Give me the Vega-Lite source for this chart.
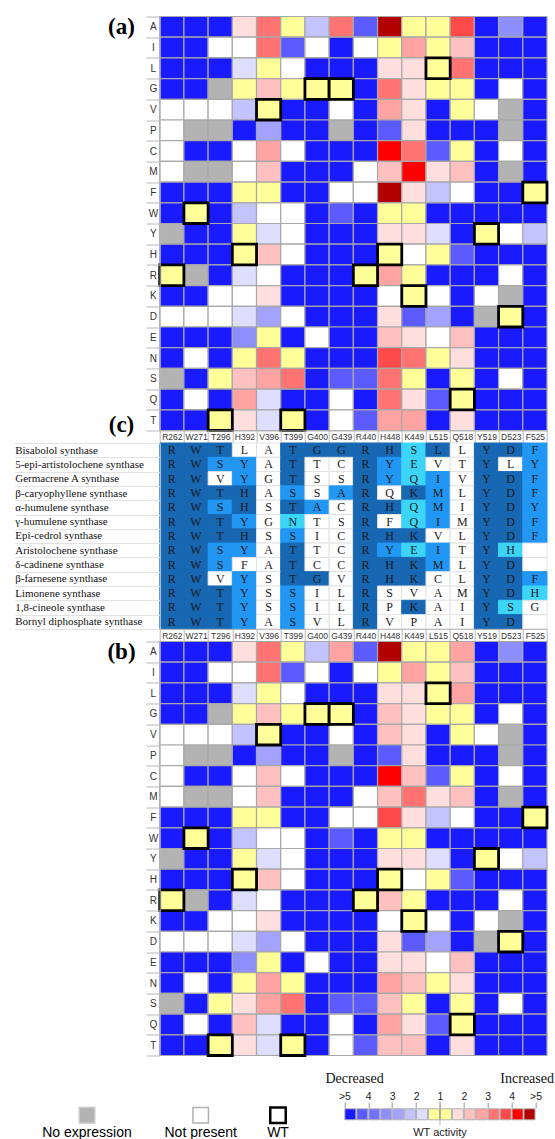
{
"$schema":"https://vega.github.io/schema/vega-lite/v6.json",
"background":"white",
"padding":{"left":13.7,"top":11.5,"right":0,"bottom":2},
"bounds":"flush",
"spacing":12.5,
"config":{"view":{"stroke":null},"font":"Liberation Sans"},
"resolve":{"scale":{"x":"independent","y":"independent","fill":"independent","stroke":"independent"}},
"datasets":{
"a":[
{"aa":"A","site":"R262","lv":"b7"},{"aa":"A","site":"W271","lv":"b7"},{"aa":"A","site":"T296","lv":"b7"},{"aa":"A","site":"H392","lv":"r1"},{"aa":"A","site":"V396","lv":"r4"},{"aa":"A","site":"T399","lv":"y"},{"aa":"A","site":"G400","lv":"b2"},{"aa":"A","site":"G439","lv":"r4"},{"aa":"A","site":"R440","lv":"b6"},{"aa":"A","site":"H448","lv":"r7"},{"aa":"A","site":"K449","lv":"y"},{"aa":"A","site":"L515","lv":"y"},{"aa":"A","site":"Q518","lv":"r5"},{"aa":"A","site":"Y519","lv":"b7"},{"aa":"A","site":"D523","lv":"b4"},{"aa":"A","site":"F525","lv":"b7"},
{"aa":"I","site":"R262","lv":"b7"},{"aa":"I","site":"W271","lv":"b7"},{"aa":"I","site":"T296","lv":"w"},{"aa":"I","site":"H392","lv":"w"},{"aa":"I","site":"V396","lv":"r4"},{"aa":"I","site":"T399","lv":"b6"},{"aa":"I","site":"G400","lv":"w"},{"aa":"I","site":"G439","lv":"b7"},{"aa":"I","site":"R440","lv":"w"},{"aa":"I","site":"H448","lv":"y"},{"aa":"I","site":"K449","lv":"r3"},{"aa":"I","site":"L515","lv":"y"},{"aa":"I","site":"Q518","lv":"r2"},{"aa":"I","site":"Y519","lv":"b7"},{"aa":"I","site":"D523","lv":"b7"},{"aa":"I","site":"F525","lv":"b7"},
{"aa":"L","site":"R262","lv":"b7"},{"aa":"L","site":"W271","lv":"b7"},{"aa":"L","site":"T296","lv":"b7"},{"aa":"L","site":"H392","lv":"b1"},{"aa":"L","site":"V396","lv":"y"},{"aa":"L","site":"T399","lv":"w"},{"aa":"L","site":"G400","lv":"b7"},{"aa":"L","site":"G439","lv":"b7"},{"aa":"L","site":"R440","lv":"b7"},{"aa":"L","site":"H448","lv":"r1"},{"aa":"L","site":"K449","lv":"r1"},{"aa":"L","site":"L515","lv":"wt"},{"aa":"L","site":"Q518","lv":"r4"},{"aa":"L","site":"Y519","lv":"b7"},{"aa":"L","site":"D523","lv":"b7"},{"aa":"L","site":"F525","lv":"b7"},
{"aa":"G","site":"R262","lv":"b7"},{"aa":"G","site":"W271","lv":"b7"},{"aa":"G","site":"T296","lv":"g"},{"aa":"G","site":"H392","lv":"y"},{"aa":"G","site":"V396","lv":"r2"},{"aa":"G","site":"T399","lv":"y"},{"aa":"G","site":"G400","lv":"wt"},{"aa":"G","site":"G439","lv":"wt"},{"aa":"G","site":"R440","lv":"b7"},{"aa":"G","site":"H448","lv":"r4"},{"aa":"G","site":"K449","lv":"r1"},{"aa":"G","site":"L515","lv":"y"},{"aa":"G","site":"Q518","lv":"y"},{"aa":"G","site":"Y519","lv":"b7"},{"aa":"G","site":"D523","lv":"w"},{"aa":"G","site":"F525","lv":"b7"},
{"aa":"V","site":"R262","lv":"w"},{"aa":"V","site":"W271","lv":"w"},{"aa":"V","site":"T296","lv":"w"},{"aa":"V","site":"H392","lv":"b2"},{"aa":"V","site":"V396","lv":"wt"},{"aa":"V","site":"T399","lv":"b7"},{"aa":"V","site":"G400","lv":"b7"},{"aa":"V","site":"G439","lv":"w"},{"aa":"V","site":"R440","lv":"b7"},{"aa":"V","site":"H448","lv":"r3"},{"aa":"V","site":"K449","lv":"r1"},{"aa":"V","site":"L515","lv":"b7"},{"aa":"V","site":"Q518","lv":"y"},{"aa":"V","site":"Y519","lv":"w"},{"aa":"V","site":"D523","lv":"g"},{"aa":"V","site":"F525","lv":"b7"},
{"aa":"P","site":"R262","lv":"w"},{"aa":"P","site":"W271","lv":"g"},{"aa":"P","site":"T296","lv":"g"},{"aa":"P","site":"H392","lv":"b7"},{"aa":"P","site":"V396","lv":"b3"},{"aa":"P","site":"T399","lv":"b7"},{"aa":"P","site":"G400","lv":"b7"},{"aa":"P","site":"G439","lv":"g"},{"aa":"P","site":"R440","lv":"b7"},{"aa":"P","site":"H448","lv":"b6"},{"aa":"P","site":"K449","lv":"r1"},{"aa":"P","site":"L515","lv":"b7"},{"aa":"P","site":"Q518","lv":"b7"},{"aa":"P","site":"Y519","lv":"b7"},{"aa":"P","site":"D523","lv":"g"},{"aa":"P","site":"F525","lv":"b7"},
{"aa":"C","site":"R262","lv":"w"},{"aa":"C","site":"W271","lv":"b7"},{"aa":"C","site":"T296","lv":"b7"},{"aa":"C","site":"H392","lv":"w"},{"aa":"C","site":"V396","lv":"r3"},{"aa":"C","site":"T399","lv":"w"},{"aa":"C","site":"G400","lv":"b7"},{"aa":"C","site":"G439","lv":"b7"},{"aa":"C","site":"R440","lv":"b7"},{"aa":"C","site":"H448","lv":"r6"},{"aa":"C","site":"K449","lv":"r4"},{"aa":"C","site":"L515","lv":"b6"},{"aa":"C","site":"Q518","lv":"y"},{"aa":"C","site":"Y519","lv":"b7"},{"aa":"C","site":"D523","lv":"w"},{"aa":"C","site":"F525","lv":"b7"},
{"aa":"M","site":"R262","lv":"w"},{"aa":"M","site":"W271","lv":"g"},{"aa":"M","site":"T296","lv":"g"},{"aa":"M","site":"H392","lv":"w"},{"aa":"M","site":"V396","lv":"r2"},{"aa":"M","site":"T399","lv":"b7"},{"aa":"M","site":"G400","lv":"b7"},{"aa":"M","site":"G439","lv":"b7"},{"aa":"M","site":"R440","lv":"w"},{"aa":"M","site":"H448","lv":"r2"},{"aa":"M","site":"K449","lv":"r6"},{"aa":"M","site":"L515","lv":"r1"},{"aa":"M","site":"Q518","lv":"r2"},{"aa":"M","site":"Y519","lv":"b7"},{"aa":"M","site":"D523","lv":"g"},{"aa":"M","site":"F525","lv":"b7"},
{"aa":"F","site":"R262","lv":"b7"},{"aa":"F","site":"W271","lv":"b7"},{"aa":"F","site":"T296","lv":"b7"},{"aa":"F","site":"H392","lv":"y"},{"aa":"F","site":"V396","lv":"y"},{"aa":"F","site":"T399","lv":"b7"},{"aa":"F","site":"G400","lv":"b7"},{"aa":"F","site":"G439","lv":"w"},{"aa":"F","site":"R440","lv":"w"},{"aa":"F","site":"H448","lv":"r7"},{"aa":"F","site":"K449","lv":"r1"},{"aa":"F","site":"L515","lv":"b2"},{"aa":"F","site":"Q518","lv":"w"},{"aa":"F","site":"Y519","lv":"b7"},{"aa":"F","site":"D523","lv":"b7"},{"aa":"F","site":"F525","lv":"wt"},
{"aa":"W","site":"R262","lv":"b7"},{"aa":"W","site":"W271","lv":"wt"},{"aa":"W","site":"T296","lv":"b7"},{"aa":"W","site":"H392","lv":"b2"},{"aa":"W","site":"V396","lv":"w"},{"aa":"W","site":"T399","lv":"w"},{"aa":"W","site":"G400","lv":"b7"},{"aa":"W","site":"G439","lv":"b6"},{"aa":"W","site":"R440","lv":"b7"},{"aa":"W","site":"H448","lv":"y"},{"aa":"W","site":"K449","lv":"y"},{"aa":"W","site":"L515","lv":"b7"},{"aa":"W","site":"Q518","lv":"b7"},{"aa":"W","site":"Y519","lv":"b7"},{"aa":"W","site":"D523","lv":"b7"},{"aa":"W","site":"F525","lv":"b7"},
{"aa":"Y","site":"R262","lv":"g"},{"aa":"Y","site":"W271","lv":"b7"},{"aa":"Y","site":"T296","lv":"b7"},{"aa":"Y","site":"H392","lv":"y"},{"aa":"Y","site":"V396","lv":"b1"},{"aa":"Y","site":"T399","lv":"w"},{"aa":"Y","site":"G400","lv":"b7"},{"aa":"Y","site":"G439","lv":"b7"},{"aa":"Y","site":"R440","lv":"b7"},{"aa":"Y","site":"H448","lv":"r1"},{"aa":"Y","site":"K449","lv":"r1"},{"aa":"Y","site":"L515","lv":"b1"},{"aa":"Y","site":"Q518","lv":"b7"},{"aa":"Y","site":"Y519","lv":"wt"},{"aa":"Y","site":"D523","lv":"w"},{"aa":"Y","site":"F525","lv":"b2"},
{"aa":"H","site":"R262","lv":"b7"},{"aa":"H","site":"W271","lv":"b7"},{"aa":"H","site":"T296","lv":"b7"},{"aa":"H","site":"H392","lv":"wt"},{"aa":"H","site":"V396","lv":"r2"},{"aa":"H","site":"T399","lv":"w"},{"aa":"H","site":"G400","lv":"b7"},{"aa":"H","site":"G439","lv":"b7"},{"aa":"H","site":"R440","lv":"b7"},{"aa":"H","site":"H448","lv":"wt"},{"aa":"H","site":"K449","lv":"w"},{"aa":"H","site":"L515","lv":"y"},{"aa":"H","site":"Q518","lv":"b6"},{"aa":"H","site":"Y519","lv":"b7"},{"aa":"H","site":"D523","lv":"b7"},{"aa":"H","site":"F525","lv":"b7"},
{"aa":"R","site":"R262","lv":"wt"},{"aa":"R","site":"W271","lv":"g"},{"aa":"R","site":"T296","lv":"b7"},{"aa":"R","site":"H392","lv":"b1"},{"aa":"R","site":"V396","lv":"w"},{"aa":"R","site":"T399","lv":"b7"},{"aa":"R","site":"G400","lv":"b7"},{"aa":"R","site":"G439","lv":"b7"},{"aa":"R","site":"R440","lv":"wt"},{"aa":"R","site":"H448","lv":"r3"},{"aa":"R","site":"K449","lv":"y"},{"aa":"R","site":"L515","lv":"b7"},{"aa":"R","site":"Q518","lv":"b7"},{"aa":"R","site":"Y519","lv":"b7"},{"aa":"R","site":"D523","lv":"w"},{"aa":"R","site":"F525","lv":"b7"},
{"aa":"K","site":"R262","lv":"b7"},{"aa":"K","site":"W271","lv":"b7"},{"aa":"K","site":"T296","lv":"w"},{"aa":"K","site":"H392","lv":"w"},{"aa":"K","site":"V396","lv":"r1"},{"aa":"K","site":"T399","lv":"b7"},{"aa":"K","site":"G400","lv":"b7"},{"aa":"K","site":"G439","lv":"b7"},{"aa":"K","site":"R440","lv":"b7"},{"aa":"K","site":"H448","lv":"w"},{"aa":"K","site":"K449","lv":"wt"},{"aa":"K","site":"L515","lv":"w"},{"aa":"K","site":"Q518","lv":"b7"},{"aa":"K","site":"Y519","lv":"w"},{"aa":"K","site":"D523","lv":"g"},{"aa":"K","site":"F525","lv":"b7"},
{"aa":"D","site":"R262","lv":"w"},{"aa":"D","site":"W271","lv":"w"},{"aa":"D","site":"T296","lv":"w"},{"aa":"D","site":"H392","lv":"b1"},{"aa":"D","site":"V396","lv":"b3"},{"aa":"D","site":"T399","lv":"w"},{"aa":"D","site":"G400","lv":"b7"},{"aa":"D","site":"G439","lv":"b7"},{"aa":"D","site":"R440","lv":"b7"},{"aa":"D","site":"H448","lv":"r1"},{"aa":"D","site":"K449","lv":"b6"},{"aa":"D","site":"L515","lv":"b3"},{"aa":"D","site":"Q518","lv":"b7"},{"aa":"D","site":"Y519","lv":"g"},{"aa":"D","site":"D523","lv":"wt"},{"aa":"D","site":"F525","lv":"b7"},
{"aa":"E","site":"R262","lv":"b7"},{"aa":"E","site":"W271","lv":"b7"},{"aa":"E","site":"T296","lv":"b7"},{"aa":"E","site":"H392","lv":"b4"},{"aa":"E","site":"V396","lv":"y"},{"aa":"E","site":"T399","lv":"b7"},{"aa":"E","site":"G400","lv":"w"},{"aa":"E","site":"G439","lv":"b7"},{"aa":"E","site":"R440","lv":"b7"},{"aa":"E","site":"H448","lv":"r2"},{"aa":"E","site":"K449","lv":"r1"},{"aa":"E","site":"L515","lv":"w"},{"aa":"E","site":"Q518","lv":"r2"},{"aa":"E","site":"Y519","lv":"b7"},{"aa":"E","site":"D523","lv":"b7"},{"aa":"E","site":"F525","lv":"b7"},
{"aa":"N","site":"R262","lv":"b7"},{"aa":"N","site":"W271","lv":"w"},{"aa":"N","site":"T296","lv":"b7"},{"aa":"N","site":"H392","lv":"y"},{"aa":"N","site":"V396","lv":"r4"},{"aa":"N","site":"T399","lv":"y"},{"aa":"N","site":"G400","lv":"b7"},{"aa":"N","site":"G439","lv":"b7"},{"aa":"N","site":"R440","lv":"b7"},{"aa":"N","site":"H448","lv":"r5"},{"aa":"N","site":"K449","lv":"r4"},{"aa":"N","site":"L515","lv":"y"},{"aa":"N","site":"Q518","lv":"r1"},{"aa":"N","site":"Y519","lv":"b7"},{"aa":"N","site":"D523","lv":"b7"},{"aa":"N","site":"F525","lv":"b7"},
{"aa":"S","site":"R262","lv":"g"},{"aa":"S","site":"W271","lv":"b7"},{"aa":"S","site":"T296","lv":"y"},{"aa":"S","site":"H392","lv":"r2"},{"aa":"S","site":"V396","lv":"r3"},{"aa":"S","site":"T399","lv":"r4"},{"aa":"S","site":"G400","lv":"b7"},{"aa":"S","site":"G439","lv":"b6"},{"aa":"S","site":"R440","lv":"b6"},{"aa":"S","site":"H448","lv":"r4"},{"aa":"S","site":"K449","lv":"y"},{"aa":"S","site":"L515","lv":"b7"},{"aa":"S","site":"Q518","lv":"y"},{"aa":"S","site":"Y519","lv":"b7"},{"aa":"S","site":"D523","lv":"w"},{"aa":"S","site":"F525","lv":"b7"},
{"aa":"Q","site":"R262","lv":"b7"},{"aa":"Q","site":"W271","lv":"w"},{"aa":"Q","site":"T296","lv":"b7"},{"aa":"Q","site":"H392","lv":"r3"},{"aa":"Q","site":"V396","lv":"b1"},{"aa":"Q","site":"T399","lv":"b7"},{"aa":"Q","site":"G400","lv":"b7"},{"aa":"Q","site":"G439","lv":"w"},{"aa":"Q","site":"R440","lv":"b7"},{"aa":"Q","site":"H448","lv":"r4"},{"aa":"Q","site":"K449","lv":"r1"},{"aa":"Q","site":"L515","lv":"b6"},{"aa":"Q","site":"Q518","lv":"wt"},{"aa":"Q","site":"Y519","lv":"b7"},{"aa":"Q","site":"D523","lv":"b7"},{"aa":"Q","site":"F525","lv":"b7"},
{"aa":"T","site":"R262","lv":"b7"},{"aa":"T","site":"W271","lv":"b7"},{"aa":"T","site":"T296","lv":"wt"},{"aa":"T","site":"H392","lv":"r1"},{"aa":"T","site":"V396","lv":"b1"},{"aa":"T","site":"T399","lv":"wt"},{"aa":"T","site":"G400","lv":"b7"},{"aa":"T","site":"G439","lv":"w"},{"aa":"T","site":"R440","lv":"b6"},{"aa":"T","site":"H448","lv":"r3"},{"aa":"T","site":"K449","lv":"r3"},{"aa":"T","site":"L515","lv":"b7"},{"aa":"T","site":"Q518","lv":"r1"},{"aa":"T","site":"Y519","lv":"b7"},{"aa":"T","site":"D523","lv":"b7"},{"aa":"T","site":"F525","lv":"b7"}
],
"b":[
{"aa":"A","site":"R262","lv":"b7"},{"aa":"A","site":"W271","lv":"b7"},{"aa":"A","site":"T296","lv":"b7"},{"aa":"A","site":"H392","lv":"r1"},{"aa":"A","site":"V396","lv":"r4"},{"aa":"A","site":"T399","lv":"y"},{"aa":"A","site":"G400","lv":"b2"},{"aa":"A","site":"G439","lv":"r3"},{"aa":"A","site":"R440","lv":"b6"},{"aa":"A","site":"H448","lv":"r7"},{"aa":"A","site":"K449","lv":"y"},{"aa":"A","site":"L515","lv":"y"},{"aa":"A","site":"Q518","lv":"r3"},{"aa":"A","site":"Y519","lv":"b7"},{"aa":"A","site":"D523","lv":"b4"},{"aa":"A","site":"F525","lv":"b7"},
{"aa":"I","site":"R262","lv":"b7"},{"aa":"I","site":"W271","lv":"b7"},{"aa":"I","site":"T296","lv":"w"},{"aa":"I","site":"H392","lv":"w"},{"aa":"I","site":"V396","lv":"r4"},{"aa":"I","site":"T399","lv":"b6"},{"aa":"I","site":"G400","lv":"w"},{"aa":"I","site":"G439","lv":"b7"},{"aa":"I","site":"R440","lv":"w"},{"aa":"I","site":"H448","lv":"y"},{"aa":"I","site":"K449","lv":"r3"},{"aa":"I","site":"L515","lv":"y"},{"aa":"I","site":"Q518","lv":"r2"},{"aa":"I","site":"Y519","lv":"b7"},{"aa":"I","site":"D523","lv":"b7"},{"aa":"I","site":"F525","lv":"b7"},
{"aa":"L","site":"R262","lv":"b7"},{"aa":"L","site":"W271","lv":"b7"},{"aa":"L","site":"T296","lv":"b7"},{"aa":"L","site":"H392","lv":"b1"},{"aa":"L","site":"V396","lv":"y"},{"aa":"L","site":"T399","lv":"w"},{"aa":"L","site":"G400","lv":"b7"},{"aa":"L","site":"G439","lv":"b7"},{"aa":"L","site":"R440","lv":"b7"},{"aa":"L","site":"H448","lv":"r1"},{"aa":"L","site":"K449","lv":"r1"},{"aa":"L","site":"L515","lv":"wt"},{"aa":"L","site":"Q518","lv":"r3"},{"aa":"L","site":"Y519","lv":"b7"},{"aa":"L","site":"D523","lv":"b7"},{"aa":"L","site":"F525","lv":"b7"},
{"aa":"G","site":"R262","lv":"b7"},{"aa":"G","site":"W271","lv":"b7"},{"aa":"G","site":"T296","lv":"g"},{"aa":"G","site":"H392","lv":"y"},{"aa":"G","site":"V396","lv":"r2"},{"aa":"G","site":"T399","lv":"y"},{"aa":"G","site":"G400","lv":"wt"},{"aa":"G","site":"G439","lv":"wt"},{"aa":"G","site":"R440","lv":"b7"},{"aa":"G","site":"H448","lv":"r2"},{"aa":"G","site":"K449","lv":"r1"},{"aa":"G","site":"L515","lv":"y"},{"aa":"G","site":"Q518","lv":"y"},{"aa":"G","site":"Y519","lv":"b7"},{"aa":"G","site":"D523","lv":"w"},{"aa":"G","site":"F525","lv":"b7"},
{"aa":"V","site":"R262","lv":"w"},{"aa":"V","site":"W271","lv":"w"},{"aa":"V","site":"T296","lv":"w"},{"aa":"V","site":"H392","lv":"b2"},{"aa":"V","site":"V396","lv":"wt"},{"aa":"V","site":"T399","lv":"b7"},{"aa":"V","site":"G400","lv":"b7"},{"aa":"V","site":"G439","lv":"w"},{"aa":"V","site":"R440","lv":"b7"},{"aa":"V","site":"H448","lv":"r2"},{"aa":"V","site":"K449","lv":"r1"},{"aa":"V","site":"L515","lv":"b7"},{"aa":"V","site":"Q518","lv":"y"},{"aa":"V","site":"Y519","lv":"w"},{"aa":"V","site":"D523","lv":"g"},{"aa":"V","site":"F525","lv":"b7"},
{"aa":"P","site":"R262","lv":"w"},{"aa":"P","site":"W271","lv":"g"},{"aa":"P","site":"T296","lv":"g"},{"aa":"P","site":"H392","lv":"b7"},{"aa":"P","site":"V396","lv":"b3"},{"aa":"P","site":"T399","lv":"b7"},{"aa":"P","site":"G400","lv":"b7"},{"aa":"P","site":"G439","lv":"g"},{"aa":"P","site":"R440","lv":"b7"},{"aa":"P","site":"H448","lv":"b6"},{"aa":"P","site":"K449","lv":"r1"},{"aa":"P","site":"L515","lv":"b7"},{"aa":"P","site":"Q518","lv":"b7"},{"aa":"P","site":"Y519","lv":"b7"},{"aa":"P","site":"D523","lv":"g"},{"aa":"P","site":"F525","lv":"b7"},
{"aa":"C","site":"R262","lv":"w"},{"aa":"C","site":"W271","lv":"b7"},{"aa":"C","site":"T296","lv":"b7"},{"aa":"C","site":"H392","lv":"w"},{"aa":"C","site":"V396","lv":"r2"},{"aa":"C","site":"T399","lv":"w"},{"aa":"C","site":"G400","lv":"b7"},{"aa":"C","site":"G439","lv":"b7"},{"aa":"C","site":"R440","lv":"b7"},{"aa":"C","site":"H448","lv":"r6"},{"aa":"C","site":"K449","lv":"r2"},{"aa":"C","site":"L515","lv":"b6"},{"aa":"C","site":"Q518","lv":"y"},{"aa":"C","site":"Y519","lv":"b7"},{"aa":"C","site":"D523","lv":"w"},{"aa":"C","site":"F525","lv":"b7"},
{"aa":"M","site":"R262","lv":"w"},{"aa":"M","site":"W271","lv":"g"},{"aa":"M","site":"T296","lv":"g"},{"aa":"M","site":"H392","lv":"w"},{"aa":"M","site":"V396","lv":"r2"},{"aa":"M","site":"T399","lv":"b7"},{"aa":"M","site":"G400","lv":"b7"},{"aa":"M","site":"G439","lv":"b7"},{"aa":"M","site":"R440","lv":"w"},{"aa":"M","site":"H448","lv":"r2"},{"aa":"M","site":"K449","lv":"r4"},{"aa":"M","site":"L515","lv":"r1"},{"aa":"M","site":"Q518","lv":"r2"},{"aa":"M","site":"Y519","lv":"b7"},{"aa":"M","site":"D523","lv":"g"},{"aa":"M","site":"F525","lv":"b7"},
{"aa":"F","site":"R262","lv":"b7"},{"aa":"F","site":"W271","lv":"b7"},{"aa":"F","site":"T296","lv":"b7"},{"aa":"F","site":"H392","lv":"y"},{"aa":"F","site":"V396","lv":"y"},{"aa":"F","site":"T399","lv":"b7"},{"aa":"F","site":"G400","lv":"b7"},{"aa":"F","site":"G439","lv":"w"},{"aa":"F","site":"R440","lv":"w"},{"aa":"F","site":"H448","lv":"r5"},{"aa":"F","site":"K449","lv":"r1"},{"aa":"F","site":"L515","lv":"b2"},{"aa":"F","site":"Q518","lv":"w"},{"aa":"F","site":"Y519","lv":"b7"},{"aa":"F","site":"D523","lv":"b7"},{"aa":"F","site":"F525","lv":"wt"},
{"aa":"W","site":"R262","lv":"b7"},{"aa":"W","site":"W271","lv":"wt"},{"aa":"W","site":"T296","lv":"b7"},{"aa":"W","site":"H392","lv":"b2"},{"aa":"W","site":"V396","lv":"w"},{"aa":"W","site":"T399","lv":"w"},{"aa":"W","site":"G400","lv":"b7"},{"aa":"W","site":"G439","lv":"b6"},{"aa":"W","site":"R440","lv":"b7"},{"aa":"W","site":"H448","lv":"y"},{"aa":"W","site":"K449","lv":"y"},{"aa":"W","site":"L515","lv":"b7"},{"aa":"W","site":"Q518","lv":"b7"},{"aa":"W","site":"Y519","lv":"b7"},{"aa":"W","site":"D523","lv":"b7"},{"aa":"W","site":"F525","lv":"b7"},
{"aa":"Y","site":"R262","lv":"g"},{"aa":"Y","site":"W271","lv":"b7"},{"aa":"Y","site":"T296","lv":"b7"},{"aa":"Y","site":"H392","lv":"y"},{"aa":"Y","site":"V396","lv":"b1"},{"aa":"Y","site":"T399","lv":"w"},{"aa":"Y","site":"G400","lv":"b7"},{"aa":"Y","site":"G439","lv":"b7"},{"aa":"Y","site":"R440","lv":"b7"},{"aa":"Y","site":"H448","lv":"r1"},{"aa":"Y","site":"K449","lv":"r1"},{"aa":"Y","site":"L515","lv":"b1"},{"aa":"Y","site":"Q518","lv":"b7"},{"aa":"Y","site":"Y519","lv":"wt"},{"aa":"Y","site":"D523","lv":"w"},{"aa":"Y","site":"F525","lv":"b2"},
{"aa":"H","site":"R262","lv":"b7"},{"aa":"H","site":"W271","lv":"b7"},{"aa":"H","site":"T296","lv":"b7"},{"aa":"H","site":"H392","lv":"wt"},{"aa":"H","site":"V396","lv":"r2"},{"aa":"H","site":"T399","lv":"w"},{"aa":"H","site":"G400","lv":"b7"},{"aa":"H","site":"G439","lv":"b7"},{"aa":"H","site":"R440","lv":"b7"},{"aa":"H","site":"H448","lv":"wt"},{"aa":"H","site":"K449","lv":"w"},{"aa":"H","site":"L515","lv":"y"},{"aa":"H","site":"Q518","lv":"b6"},{"aa":"H","site":"Y519","lv":"b7"},{"aa":"H","site":"D523","lv":"b7"},{"aa":"H","site":"F525","lv":"b7"},
{"aa":"R","site":"R262","lv":"wt"},{"aa":"R","site":"W271","lv":"g"},{"aa":"R","site":"T296","lv":"b7"},{"aa":"R","site":"H392","lv":"b1"},{"aa":"R","site":"V396","lv":"w"},{"aa":"R","site":"T399","lv":"b7"},{"aa":"R","site":"G400","lv":"b7"},{"aa":"R","site":"G439","lv":"b7"},{"aa":"R","site":"R440","lv":"wt"},{"aa":"R","site":"H448","lv":"r2"},{"aa":"R","site":"K449","lv":"y"},{"aa":"R","site":"L515","lv":"b7"},{"aa":"R","site":"Q518","lv":"b7"},{"aa":"R","site":"Y519","lv":"b7"},{"aa":"R","site":"D523","lv":"w"},{"aa":"R","site":"F525","lv":"b7"},
{"aa":"K","site":"R262","lv":"b7"},{"aa":"K","site":"W271","lv":"b7"},{"aa":"K","site":"T296","lv":"w"},{"aa":"K","site":"H392","lv":"w"},{"aa":"K","site":"V396","lv":"r1"},{"aa":"K","site":"T399","lv":"b7"},{"aa":"K","site":"G400","lv":"b7"},{"aa":"K","site":"G439","lv":"b7"},{"aa":"K","site":"R440","lv":"b7"},{"aa":"K","site":"H448","lv":"w"},{"aa":"K","site":"K449","lv":"wt"},{"aa":"K","site":"L515","lv":"w"},{"aa":"K","site":"Q518","lv":"b7"},{"aa":"K","site":"Y519","lv":"w"},{"aa":"K","site":"D523","lv":"g"},{"aa":"K","site":"F525","lv":"b7"},
{"aa":"D","site":"R262","lv":"w"},{"aa":"D","site":"W271","lv":"w"},{"aa":"D","site":"T296","lv":"w"},{"aa":"D","site":"H392","lv":"b1"},{"aa":"D","site":"V396","lv":"b3"},{"aa":"D","site":"T399","lv":"w"},{"aa":"D","site":"G400","lv":"b7"},{"aa":"D","site":"G439","lv":"b7"},{"aa":"D","site":"R440","lv":"b7"},{"aa":"D","site":"H448","lv":"r1"},{"aa":"D","site":"K449","lv":"b6"},{"aa":"D","site":"L515","lv":"b3"},{"aa":"D","site":"Q518","lv":"b7"},{"aa":"D","site":"Y519","lv":"g"},{"aa":"D","site":"D523","lv":"wt"},{"aa":"D","site":"F525","lv":"b7"},
{"aa":"E","site":"R262","lv":"b7"},{"aa":"E","site":"W271","lv":"b7"},{"aa":"E","site":"T296","lv":"b7"},{"aa":"E","site":"H392","lv":"b4"},{"aa":"E","site":"V396","lv":"y"},{"aa":"E","site":"T399","lv":"b7"},{"aa":"E","site":"G400","lv":"w"},{"aa":"E","site":"G439","lv":"b7"},{"aa":"E","site":"R440","lv":"b7"},{"aa":"E","site":"H448","lv":"r1"},{"aa":"E","site":"K449","lv":"r1"},{"aa":"E","site":"L515","lv":"w"},{"aa":"E","site":"Q518","lv":"r2"},{"aa":"E","site":"Y519","lv":"b7"},{"aa":"E","site":"D523","lv":"b7"},{"aa":"E","site":"F525","lv":"b7"},
{"aa":"N","site":"R262","lv":"b7"},{"aa":"N","site":"W271","lv":"w"},{"aa":"N","site":"T296","lv":"b7"},{"aa":"N","site":"H392","lv":"y"},{"aa":"N","site":"V396","lv":"r3"},{"aa":"N","site":"T399","lv":"y"},{"aa":"N","site":"G400","lv":"b7"},{"aa":"N","site":"G439","lv":"b7"},{"aa":"N","site":"R440","lv":"b7"},{"aa":"N","site":"H448","lv":"r3"},{"aa":"N","site":"K449","lv":"r2"},{"aa":"N","site":"L515","lv":"y"},{"aa":"N","site":"Q518","lv":"r1"},{"aa":"N","site":"Y519","lv":"b7"},{"aa":"N","site":"D523","lv":"b7"},{"aa":"N","site":"F525","lv":"b7"},
{"aa":"S","site":"R262","lv":"g"},{"aa":"S","site":"W271","lv":"b7"},{"aa":"S","site":"T296","lv":"y"},{"aa":"S","site":"H392","lv":"r1"},{"aa":"S","site":"V396","lv":"r3"},{"aa":"S","site":"T399","lv":"r4"},{"aa":"S","site":"G400","lv":"b7"},{"aa":"S","site":"G439","lv":"b6"},{"aa":"S","site":"R440","lv":"b6"},{"aa":"S","site":"H448","lv":"r2"},{"aa":"S","site":"K449","lv":"y"},{"aa":"S","site":"L515","lv":"b7"},{"aa":"S","site":"Q518","lv":"y"},{"aa":"S","site":"Y519","lv":"b7"},{"aa":"S","site":"D523","lv":"w"},{"aa":"S","site":"F525","lv":"b7"},
{"aa":"Q","site":"R262","lv":"b7"},{"aa":"Q","site":"W271","lv":"w"},{"aa":"Q","site":"T296","lv":"b7"},{"aa":"Q","site":"H392","lv":"r2"},{"aa":"Q","site":"V396","lv":"b1"},{"aa":"Q","site":"T399","lv":"b7"},{"aa":"Q","site":"G400","lv":"b7"},{"aa":"Q","site":"G439","lv":"w"},{"aa":"Q","site":"R440","lv":"b7"},{"aa":"Q","site":"H448","lv":"r3"},{"aa":"Q","site":"K449","lv":"r1"},{"aa":"Q","site":"L515","lv":"b6"},{"aa":"Q","site":"Q518","lv":"wt"},{"aa":"Q","site":"Y519","lv":"b7"},{"aa":"Q","site":"D523","lv":"b7"},{"aa":"Q","site":"F525","lv":"b7"},
{"aa":"T","site":"R262","lv":"b7"},{"aa":"T","site":"W271","lv":"b7"},{"aa":"T","site":"T296","lv":"wt"},{"aa":"T","site":"H392","lv":"r1"},{"aa":"T","site":"V396","lv":"b1"},{"aa":"T","site":"T399","lv":"wt"},{"aa":"T","site":"G400","lv":"b7"},{"aa":"T","site":"G439","lv":"w"},{"aa":"T","site":"R440","lv":"b6"},{"aa":"T","site":"H448","lv":"r2"},{"aa":"T","site":"K449","lv":"r2"},{"aa":"T","site":"L515","lv":"b7"},{"aa":"T","site":"Q518","lv":"r1"},{"aa":"T","site":"Y519","lv":"b7"},{"aa":"T","site":"D523","lv":"b7"},{"aa":"T","site":"F525","lv":"b7"}
],
"c":[
{"name":"Bisabolol synthase","site":"R262","res":"R","cls":"D"},{"name":"Bisabolol synthase","site":"W271","res":"W","cls":"D"},{"name":"Bisabolol synthase","site":"T296","res":"T","cls":"D"},{"name":"Bisabolol synthase","site":"H392","res":"L","cls":"W"},{"name":"Bisabolol synthase","site":"V396","res":"A","cls":"W"},{"name":"Bisabolol synthase","site":"T399","res":"T","cls":"D"},{"name":"Bisabolol synthase","site":"G400","res":"G","cls":"D"},{"name":"Bisabolol synthase","site":"G439","res":"G","cls":"D"},{"name":"Bisabolol synthase","site":"R440","res":"R","cls":"D"},{"name":"Bisabolol synthase","site":"H448","res":"H","cls":"D"},{"name":"Bisabolol synthase","site":"K449","res":"S","cls":"C"},{"name":"Bisabolol synthase","site":"L515","res":"L","cls":"D"},{"name":"Bisabolol synthase","site":"Q518","res":"L","cls":"W"},{"name":"Bisabolol synthase","site":"Y519","res":"Y","cls":"D"},{"name":"Bisabolol synthase","site":"D523","res":"D","cls":"D"},{"name":"Bisabolol synthase","site":"F525","res":"F","cls":"M"},
{"name":"5-epi-artistolochene synthase","site":"R262","res":"R","cls":"D"},{"name":"5-epi-artistolochene synthase","site":"W271","res":"W","cls":"D"},{"name":"5-epi-artistolochene synthase","site":"T296","res":"S","cls":"M"},{"name":"5-epi-artistolochene synthase","site":"H392","res":"Y","cls":"M"},{"name":"5-epi-artistolochene synthase","site":"V396","res":"A","cls":"W"},{"name":"5-epi-artistolochene synthase","site":"T399","res":"T","cls":"D"},{"name":"5-epi-artistolochene synthase","site":"G400","res":"T","cls":"W"},{"name":"5-epi-artistolochene synthase","site":"G439","res":"C","cls":"W"},{"name":"5-epi-artistolochene synthase","site":"R440","res":"R","cls":"D"},{"name":"5-epi-artistolochene synthase","site":"H448","res":"Y","cls":"M"},{"name":"5-epi-artistolochene synthase","site":"K449","res":"E","cls":"C"},{"name":"5-epi-artistolochene synthase","site":"L515","res":"V","cls":"W"},{"name":"5-epi-artistolochene synthase","site":"Q518","res":"T","cls":"W"},{"name":"5-epi-artistolochene synthase","site":"Y519","res":"Y","cls":"D"},{"name":"5-epi-artistolochene synthase","site":"D523","res":"L","cls":"W"},{"name":"5-epi-artistolochene synthase","site":"F525","res":"Y","cls":"M"},
{"name":"Germacrene A synthase","site":"R262","res":"R","cls":"D"},{"name":"Germacrene A synthase","site":"W271","res":"W","cls":"D"},{"name":"Germacrene A synthase","site":"T296","res":"V","cls":"W"},{"name":"Germacrene A synthase","site":"H392","res":"Y","cls":"M"},{"name":"Germacrene A synthase","site":"V396","res":"G","cls":"W"},{"name":"Germacrene A synthase","site":"T399","res":"T","cls":"D"},{"name":"Germacrene A synthase","site":"G400","res":"S","cls":"W"},{"name":"Germacrene A synthase","site":"G439","res":"S","cls":"W"},{"name":"Germacrene A synthase","site":"R440","res":"R","cls":"D"},{"name":"Germacrene A synthase","site":"H448","res":"Y","cls":"M"},{"name":"Germacrene A synthase","site":"K449","res":"Q","cls":"C"},{"name":"Germacrene A synthase","site":"L515","res":"I","cls":"M"},{"name":"Germacrene A synthase","site":"Q518","res":"V","cls":"W"},{"name":"Germacrene A synthase","site":"Y519","res":"Y","cls":"D"},{"name":"Germacrene A synthase","site":"D523","res":"D","cls":"D"},{"name":"Germacrene A synthase","site":"F525","res":"F","cls":"M"},
{"name":"β-caryophyllene synthase","site":"R262","res":"R","cls":"D"},{"name":"β-caryophyllene synthase","site":"W271","res":"W","cls":"D"},{"name":"β-caryophyllene synthase","site":"T296","res":"T","cls":"D"},{"name":"β-caryophyllene synthase","site":"H392","res":"H","cls":"D"},{"name":"β-caryophyllene synthase","site":"V396","res":"A","cls":"W"},{"name":"β-caryophyllene synthase","site":"T399","res":"S","cls":"M"},{"name":"β-caryophyllene synthase","site":"G400","res":"S","cls":"W"},{"name":"β-caryophyllene synthase","site":"G439","res":"A","cls":"M"},{"name":"β-caryophyllene synthase","site":"R440","res":"R","cls":"D"},{"name":"β-caryophyllene synthase","site":"H448","res":"Q","cls":"W"},{"name":"β-caryophyllene synthase","site":"K449","res":"K","cls":"D"},{"name":"β-caryophyllene synthase","site":"L515","res":"M","cls":"M"},{"name":"β-caryophyllene synthase","site":"Q518","res":"L","cls":"W"},{"name":"β-caryophyllene synthase","site":"Y519","res":"Y","cls":"D"},{"name":"β-caryophyllene synthase","site":"D523","res":"D","cls":"D"},{"name":"β-caryophyllene synthase","site":"F525","res":"F","cls":"M"},
{"name":"α-humulene synthase","site":"R262","res":"R","cls":"D"},{"name":"α-humulene synthase","site":"W271","res":"W","cls":"D"},{"name":"α-humulene synthase","site":"T296","res":"S","cls":"M"},{"name":"α-humulene synthase","site":"H392","res":"H","cls":"D"},{"name":"α-humulene synthase","site":"V396","res":"S","cls":"W"},{"name":"α-humulene synthase","site":"T399","res":"T","cls":"D"},{"name":"α-humulene synthase","site":"G400","res":"A","cls":"M"},{"name":"α-humulene synthase","site":"G439","res":"C","cls":"W"},{"name":"α-humulene synthase","site":"R440","res":"R","cls":"D"},{"name":"α-humulene synthase","site":"H448","res":"H","cls":"D"},{"name":"α-humulene synthase","site":"K449","res":"Q","cls":"C"},{"name":"α-humulene synthase","site":"L515","res":"M","cls":"M"},{"name":"α-humulene synthase","site":"Q518","res":"I","cls":"W"},{"name":"α-humulene synthase","site":"Y519","res":"Y","cls":"D"},{"name":"α-humulene synthase","site":"D523","res":"D","cls":"D"},{"name":"α-humulene synthase","site":"F525","res":"Y","cls":"M"},
{"name":"γ-humulene synthase","site":"R262","res":"R","cls":"D"},{"name":"γ-humulene synthase","site":"W271","res":"W","cls":"D"},{"name":"γ-humulene synthase","site":"T296","res":"T","cls":"D"},{"name":"γ-humulene synthase","site":"H392","res":"Y","cls":"M"},{"name":"γ-humulene synthase","site":"V396","res":"G","cls":"W"},{"name":"γ-humulene synthase","site":"T399","res":"N","cls":"C"},{"name":"γ-humulene synthase","site":"G400","res":"T","cls":"W"},{"name":"γ-humulene synthase","site":"G439","res":"S","cls":"W"},{"name":"γ-humulene synthase","site":"R440","res":"R","cls":"D"},{"name":"γ-humulene synthase","site":"H448","res":"F","cls":"W"},{"name":"γ-humulene synthase","site":"K449","res":"Q","cls":"C"},{"name":"γ-humulene synthase","site":"L515","res":"I","cls":"M"},{"name":"γ-humulene synthase","site":"Q518","res":"M","cls":"W"},{"name":"γ-humulene synthase","site":"Y519","res":"Y","cls":"D"},{"name":"γ-humulene synthase","site":"D523","res":"D","cls":"D"},{"name":"γ-humulene synthase","site":"F525","res":"F","cls":"M"},
{"name":"Epi-cedrol synthase","site":"R262","res":"R","cls":"D"},{"name":"Epi-cedrol synthase","site":"W271","res":"W","cls":"D"},{"name":"Epi-cedrol synthase","site":"T296","res":"T","cls":"D"},{"name":"Epi-cedrol synthase","site":"H392","res":"H","cls":"D"},{"name":"Epi-cedrol synthase","site":"V396","res":"S","cls":"W"},{"name":"Epi-cedrol synthase","site":"T399","res":"S","cls":"M"},{"name":"Epi-cedrol synthase","site":"G400","res":"I","cls":"W"},{"name":"Epi-cedrol synthase","site":"G439","res":"C","cls":"W"},{"name":"Epi-cedrol synthase","site":"R440","res":"R","cls":"D"},{"name":"Epi-cedrol synthase","site":"H448","res":"H","cls":"D"},{"name":"Epi-cedrol synthase","site":"K449","res":"K","cls":"D"},{"name":"Epi-cedrol synthase","site":"L515","res":"V","cls":"W"},{"name":"Epi-cedrol synthase","site":"Q518","res":"L","cls":"W"},{"name":"Epi-cedrol synthase","site":"Y519","res":"Y","cls":"D"},{"name":"Epi-cedrol synthase","site":"D523","res":"D","cls":"D"},{"name":"Epi-cedrol synthase","site":"F525","res":"F","cls":"M"},
{"name":"Aristolochene synthase","site":"R262","res":"R","cls":"D"},{"name":"Aristolochene synthase","site":"W271","res":"W","cls":"D"},{"name":"Aristolochene synthase","site":"T296","res":"S","cls":"M"},{"name":"Aristolochene synthase","site":"H392","res":"Y","cls":"M"},{"name":"Aristolochene synthase","site":"V396","res":"A","cls":"W"},{"name":"Aristolochene synthase","site":"T399","res":"T","cls":"D"},{"name":"Aristolochene synthase","site":"G400","res":"T","cls":"W"},{"name":"Aristolochene synthase","site":"G439","res":"C","cls":"W"},{"name":"Aristolochene synthase","site":"R440","res":"R","cls":"D"},{"name":"Aristolochene synthase","site":"H448","res":"Y","cls":"M"},{"name":"Aristolochene synthase","site":"K449","res":"E","cls":"C"},{"name":"Aristolochene synthase","site":"L515","res":"I","cls":"M"},{"name":"Aristolochene synthase","site":"Q518","res":"T","cls":"W"},{"name":"Aristolochene synthase","site":"Y519","res":"Y","cls":"D"},{"name":"Aristolochene synthase","site":"D523","res":"H","cls":"C"},{"name":"Aristolochene synthase","site":"F525","res":"","cls":"W"},
{"name":"δ-cadinene synthase","site":"R262","res":"R","cls":"D"},{"name":"δ-cadinene synthase","site":"W271","res":"W","cls":"D"},{"name":"δ-cadinene synthase","site":"T296","res":"S","cls":"M"},{"name":"δ-cadinene synthase","site":"H392","res":"F","cls":"W"},{"name":"δ-cadinene synthase","site":"V396","res":"A","cls":"W"},{"name":"δ-cadinene synthase","site":"T399","res":"T","cls":"D"},{"name":"δ-cadinene synthase","site":"G400","res":"C","cls":"W"},{"name":"δ-cadinene synthase","site":"G439","res":"C","cls":"W"},{"name":"δ-cadinene synthase","site":"R440","res":"R","cls":"D"},{"name":"δ-cadinene synthase","site":"H448","res":"H","cls":"D"},{"name":"δ-cadinene synthase","site":"K449","res":"K","cls":"D"},{"name":"δ-cadinene synthase","site":"L515","res":"M","cls":"M"},{"name":"δ-cadinene synthase","site":"Q518","res":"L","cls":"W"},{"name":"δ-cadinene synthase","site":"Y519","res":"Y","cls":"D"},{"name":"δ-cadinene synthase","site":"D523","res":"D","cls":"D"},{"name":"δ-cadinene synthase","site":"F525","res":"","cls":"W"},
{"name":"β-farnesene synthase","site":"R262","res":"R","cls":"D"},{"name":"β-farnesene synthase","site":"W271","res":"W","cls":"D"},{"name":"β-farnesene synthase","site":"T296","res":"V","cls":"W"},{"name":"β-farnesene synthase","site":"H392","res":"Y","cls":"M"},{"name":"β-farnesene synthase","site":"V396","res":"S","cls":"W"},{"name":"β-farnesene synthase","site":"T399","res":"T","cls":"D"},{"name":"β-farnesene synthase","site":"G400","res":"G","cls":"D"},{"name":"β-farnesene synthase","site":"G439","res":"V","cls":"W"},{"name":"β-farnesene synthase","site":"R440","res":"R","cls":"D"},{"name":"β-farnesene synthase","site":"H448","res":"H","cls":"D"},{"name":"β-farnesene synthase","site":"K449","res":"K","cls":"D"},{"name":"β-farnesene synthase","site":"L515","res":"C","cls":"W"},{"name":"β-farnesene synthase","site":"Q518","res":"L","cls":"W"},{"name":"β-farnesene synthase","site":"Y519","res":"Y","cls":"D"},{"name":"β-farnesene synthase","site":"D523","res":"D","cls":"D"},{"name":"β-farnesene synthase","site":"F525","res":"F","cls":"M"},
{"name":"Limonene synthase","site":"R262","res":"R","cls":"D"},{"name":"Limonene synthase","site":"W271","res":"W","cls":"D"},{"name":"Limonene synthase","site":"T296","res":"T","cls":"D"},{"name":"Limonene synthase","site":"H392","res":"Y","cls":"M"},{"name":"Limonene synthase","site":"V396","res":"S","cls":"W"},{"name":"Limonene synthase","site":"T399","res":"S","cls":"M"},{"name":"Limonene synthase","site":"G400","res":"I","cls":"W"},{"name":"Limonene synthase","site":"G439","res":"L","cls":"W"},{"name":"Limonene synthase","site":"R440","res":"R","cls":"D"},{"name":"Limonene synthase","site":"H448","res":"S","cls":"W"},{"name":"Limonene synthase","site":"K449","res":"V","cls":"W"},{"name":"Limonene synthase","site":"L515","res":"A","cls":"W"},{"name":"Limonene synthase","site":"Q518","res":"M","cls":"W"},{"name":"Limonene synthase","site":"Y519","res":"Y","cls":"D"},{"name":"Limonene synthase","site":"D523","res":"D","cls":"D"},{"name":"Limonene synthase","site":"F525","res":"H","cls":"C"},
{"name":"1,8-cineole synthase","site":"R262","res":"R","cls":"D"},{"name":"1,8-cineole synthase","site":"W271","res":"W","cls":"D"},{"name":"1,8-cineole synthase","site":"T296","res":"T","cls":"D"},{"name":"1,8-cineole synthase","site":"H392","res":"Y","cls":"M"},{"name":"1,8-cineole synthase","site":"V396","res":"S","cls":"W"},{"name":"1,8-cineole synthase","site":"T399","res":"S","cls":"M"},{"name":"1,8-cineole synthase","site":"G400","res":"I","cls":"W"},{"name":"1,8-cineole synthase","site":"G439","res":"L","cls":"W"},{"name":"1,8-cineole synthase","site":"R440","res":"R","cls":"D"},{"name":"1,8-cineole synthase","site":"H448","res":"P","cls":"W"},{"name":"1,8-cineole synthase","site":"K449","res":"K","cls":"D"},{"name":"1,8-cineole synthase","site":"L515","res":"A","cls":"W"},{"name":"1,8-cineole synthase","site":"Q518","res":"I","cls":"W"},{"name":"1,8-cineole synthase","site":"Y519","res":"Y","cls":"D"},{"name":"1,8-cineole synthase","site":"D523","res":"S","cls":"C"},{"name":"1,8-cineole synthase","site":"F525","res":"G","cls":"W"},
{"name":"Bornyl diphosphate synthase","site":"R262","res":"R","cls":"D"},{"name":"Bornyl diphosphate synthase","site":"W271","res":"W","cls":"D"},{"name":"Bornyl diphosphate synthase","site":"T296","res":"T","cls":"D"},{"name":"Bornyl diphosphate synthase","site":"H392","res":"Y","cls":"M"},{"name":"Bornyl diphosphate synthase","site":"V396","res":"A","cls":"W"},{"name":"Bornyl diphosphate synthase","site":"T399","res":"S","cls":"M"},{"name":"Bornyl diphosphate synthase","site":"G400","res":"V","cls":"W"},{"name":"Bornyl diphosphate synthase","site":"G439","res":"L","cls":"W"},{"name":"Bornyl diphosphate synthase","site":"R440","res":"R","cls":"D"},{"name":"Bornyl diphosphate synthase","site":"H448","res":"V","cls":"W"},{"name":"Bornyl diphosphate synthase","site":"K449","res":"P","cls":"W"},{"name":"Bornyl diphosphate synthase","site":"L515","res":"A","cls":"W"},{"name":"Bornyl diphosphate synthase","site":"Q518","res":"I","cls":"W"},{"name":"Bornyl diphosphate synthase","site":"Y519","res":"Y","cls":"D"},{"name":"Bornyl diphosphate synthase","site":"D523","res":"D","cls":"D"},{"name":"Bornyl diphosphate synthase","site":"F525","res":"","cls":"W"}
],
"swatch":[
{"slot":1,"lv":"b7"},{"slot":2,"lv":"b6"},{"slot":3,"lv":"b5"},{"slot":4,"lv":"b4"},{"slot":5,"lv":"b3"},{"slot":6,"lv":"b2"},{"slot":7,"lv":"b1"},{"slot":8,"lv":"y"},{"slot":9,"lv":"y"},{"slot":10,"lv":"r1"},{"slot":11,"lv":"r2"},{"slot":12,"lv":"r3"},{"slot":13,"lv":"r4"},{"slot":14,"lv":"r5"},{"slot":15,"lv":"r6"},{"slot":16,"lv":"r7"}
]
},
"vconcat":[
{
"width":387.3,"height":414,
"data":{"name":"a"},
"encoding":{
"x":{"field":"site","type":"nominal","sort":["R262","W271","T296","H392","V396","T399","G400","G439","R440","H448","K449","L515","Q518","Y519","D523","F525"],"scale":{"paddingInner":0,"paddingOuter":0},
"axis":{"orient":"bottom","title":null,"tickBand":"extent","tickSize":12.5,"tickColor":"#b8b8b8","domainColor":"#b8b8b8","labelPadding":-6.25,"labelBaseline":"middle","labelAngle":0,"labelFont":"Liberation Sans","labelFontSize":8.5,"labelColor":"#333333","labelOverlap":false,"labelFlush":false}},
"y":{"field":"aa","type":"nominal","sort":["A","I","L","G","V","P","C","M","F","W","Y","H","R","K","D","E","N","S","Q","T"],"scale":{"paddingInner":0,"paddingOuter":0},
"axis":{"title":"(a)","titleAngle":0,"titleX":-38.7,"titleY":9.7,"titleAlign":"center","titleBaseline":"middle","titleFont":"Liberation Serif","titleFontSize":23,"titleFontWeight":"bold","titleColor":"#000000","tickBand":"extent","tickSize":13.7,"tickColor":"#b8b8b8","domainColor":"#b8b8b8","labelPadding":-6.85,"labelAlign":"center","labelBaseline":"middle","labelFont":"Liberation Sans","labelFontSize":10,"labelColor":"#333333"}}
},
"layer":[
{"mark":{"type":"rect","stroke":"#a8a8a8","strokeWidth":1.2},
"encoding":{"fill":{"field":"lv","type":"nominal","legend":null,"scale":{"domain":["b7","b6","b5","b4","b3","b2","b1","y","wt","r1","r2","r3","r4","r5","r6","r7","g","w"],"range":["#1a1aff","#5b5bff","#7272ff","#8e8eff","#a3a3ff","#c3c3ff","#dedeff","#ffff99","#ffff99","#ffdede","#ffc0c0","#ffa3a3","#ff7373","#ff4a4a","#ff0000","#b30000","#b3b3b3","#ffffff"]}}}},
{"transform":[{"filter":"datum.lv == 'wt'"}],"mark":{"type":"rect","fill":"#ffff99","stroke":"#000000","strokeWidth":2.8}}
]
},
{
"width":387.3,"height":185.9,
"data":{"name":"c"},
"encoding":{
"x":{"field":"site","type":"nominal","sort":["R262","W271","T296","H392","V396","T399","G400","G439","R440","H448","K449","L515","Q518","Y519","D523","F525"],"scale":{"paddingInner":0,"paddingOuter":0},
"axis":{"orient":"bottom","title":null,"tickBand":"extent","tickSize":12.5,"tickColor":"#b8b8b8","domainColor":"#b8b8b8","labelPadding":-6.25,"labelBaseline":"middle","labelAngle":0,"labelFont":"Liberation Sans","labelFontSize":8.5,"labelColor":"#333333","labelOverlap":false,"labelFlush":false}},
"y":{"field":"name","type":"nominal","sort":["Bisabolol synthase","5-epi-artistolochene synthase","Germacrene A synthase","β-caryophyllene synthase","α-humulene synthase","γ-humulene synthase","Epi-cedrol synthase","Aristolochene synthase","δ-cadinene synthase","β-farnesene synthase","Limonene synthase","1,8-cineole synthase","Bornyl diphosphate synthase"],"scale":{"paddingInner":0,"paddingOuter":0},
"axis":{"title":"(c)","titleAngle":0,"titleX":-38.7,"titleY":-18.8,"titleAlign":"center","titleBaseline":"middle","titleFont":"Liberation Serif","titleFontSize":23,"titleFontWeight":"bold","titleColor":"#000000","tickBand":"extent","tickSize":145,"tickColor":"#e2e2e2","domainColor":"#e2e2e2","labelPadding":0,"labelAlign":"left","labelBaseline":"middle","labelFont":"Liberation Serif","labelFontSize":11,"labelColor":"#111111","labelLimit":200}}
},
"layer":[
{"mark":{"type":"rect","strokeWidth":1},
"encoding":{
"fill":{"field":"cls","type":"nominal","legend":null,"scale":{"domain":["D","M","C","W"],"range":["#1767b3","#2196f3","#3dd5f7","#ffffff"]}},
"stroke":{"field":"cls","type":"nominal","legend":null,"scale":{"domain":["D","M","C","W"],"range":["#1767b3","#2196f3","#3dd5f7","#e2e2e2"]}}}},
{"mark":{"type":"text","font":"Liberation Serif","fontSize":12,"color":"#1a1a1a","baseline":"middle"},
"encoding":{"text":{"field":"res"}}}
]
},
{
"width":387.3,"height":414,
"data":{"name":"b"},
"encoding":{
"x":{"field":"site","type":"nominal","sort":["R262","W271","T296","H392","V396","T399","G400","G439","R440","H448","K449","L515","Q518","Y519","D523","F525"],"scale":{"paddingInner":0,"paddingOuter":0},"axis":null},
"y":{"field":"aa","type":"nominal","sort":["A","I","L","G","V","P","C","M","F","W","Y","H","R","K","D","E","N","S","Q","T"],"scale":{"paddingInner":0,"paddingOuter":0},
"axis":{"title":"(b)","titleAngle":0,"titleX":-38.7,"titleY":10,"titleAlign":"center","titleBaseline":"middle","titleFont":"Liberation Serif","titleFontSize":23,"titleFontWeight":"bold","titleColor":"#000000","tickBand":"extent","tickSize":13.7,"tickColor":"#b8b8b8","domainColor":"#b8b8b8","labelPadding":-6.85,"labelAlign":"center","labelBaseline":"middle","labelFont":"Liberation Sans","labelFontSize":10,"labelColor":"#333333"}}
},
"layer":[
{"mark":{"type":"rect","stroke":"#a8a8a8","strokeWidth":1.2},
"encoding":{"fill":{"field":"lv","type":"nominal","legend":null,"scale":{"domain":["b7","b6","b5","b4","b3","b2","b1","y","wt","r1","r2","r3","r4","r5","r6","r7","g","w"],"range":["#1a1aff","#5b5bff","#7272ff","#8e8eff","#a3a3ff","#c3c3ff","#dedeff","#ffff99","#ffff99","#ffdede","#ffc0c0","#ffa3a3","#ff7373","#ff4a4a","#ff0000","#b30000","#b3b3b3","#ffffff"]}}}},
{"transform":[{"filter":"datum.lv == 'wt'"}],"mark":{"type":"rect","fill":"#ffff99","stroke":"#000000","strokeWidth":2.8}}
]
},
{
"width":387.3,"height":40,
"resolve":{"scale":{"x":"independent","fill":"independent"}},
"layer":[
{"data":{"name":"swatch"},
"mark":{"type":"square","size":121,"stroke":"#b0b0b0","strokeWidth":1,"opacity":1,"filled":true,"yOffset":26.3},
"encoding":{
"x":{"field":"slot","type":"ordinal","scale":{"type":"band","range":[184.7,375.8],"paddingInner":0,"paddingOuter":0},"axis":null},
"fill":{"field":"lv","type":"nominal","legend":null,"scale":{"domain":["b7","b6","b5","b4","b3","b2","b1","y","wt","r1","r2","r3","r4","r5","r6","r7","g","w"],"range":["#1a1aff","#5b5bff","#7272ff","#8e8eff","#a3a3ff","#c3c3ff","#dedeff","#ffff99","#ffff99","#ffdede","#ffc0c0","#ffa3a3","#ff7373","#ff4a4a","#ff0000","#b30000","#b3b3b3","#ffffff"]}}}},
{"encoding":{"x":{"field":"v","type":"quantitative","scale":{"domain":[0,16],"range":[184.7,375.8],"nice":false,"zero":false},
"axis":{"orient":"top","offset":-40,"values":[0,2,4,6,8,10,12,14,16],"labelExpr":"['>5','4','3','2','1','2','3','4','>5'][datum.value/2]","tickSize":6,"tickColor":"#999999","domain":false,"grid":false,"labelPadding":1,"labelFont":"Liberation Sans","labelFontSize":10.5,"labelColor":"#222222","title":null,"labelFlush":false,"labelOverlap":false}}},
"layer":[
{"data":{"values":[{"v":8}]},"mark":{"type":"tick","thickness":1,"size":24,"color":"#999999","yOffset":25.3}},
{"data":{"values":[{"v":8,"t":"WT activity"}]},"mark":{"type":"text","dy":45,"fontSize":11,"font":"Liberation Sans","color":"#222222","baseline":"middle"},"encoding":{"text":{"field":"t"}}},
{"data":{"values":[{"v":0,"t":"Decreased"}]},"mark":{"type":"text","dy":-8.7,"dx":-19,"align":"left","fontSize":14,"font":"Liberation Serif","color":"#111111","baseline":"middle"},"encoding":{"text":{"field":"t"}}},
{"data":{"values":[{"v":16,"t":"Increased"}]},"mark":{"type":"text","dy":-8.7,"dx":18.5,"align":"right","fontSize":14,"font":"Liberation Serif","color":"#111111","baseline":"middle"},"encoding":{"text":{"field":"t"}}}
]},
{"data":{"values":[{"item":"No expression"}]},
"encoding":{"x":{"field":"item","type":"nominal","scale":{"type":"point","range":[-92.7,-52.7],"padding":0.5},"axis":null}},
"layer":[
{"mark":{"type":"square","size":240,"fill":"#b3b3b3","stroke":"#c8c8c8","strokeWidth":1.5,"opacity":1,"filled":true,"yOffset":27.3}},
{"mark":{"type":"text","dy":45.3,"fontSize":14,"font":"Liberation Sans","color":"#000000","baseline":"middle"},"encoding":{"text":{"field":"item"}}}
]},
{"data":{"values":[{"item":"Not present"}]},
"encoding":{"x":{"field":"item","type":"nominal","scale":{"type":"point","range":[21,61],"padding":0.5},"axis":null}},
"layer":[
{"mark":{"type":"square","size":240,"fill":"#ffffff","stroke":"#b0b0b0","strokeWidth":1.5,"opacity":1,"filled":true,"yOffset":27.3}},
{"mark":{"type":"text","dy":45.3,"fontSize":14,"font":"Liberation Sans","color":"#000000","baseline":"middle"},"encoding":{"text":{"field":"item"}}}
]},
{"data":{"values":[{"item":"WT"}]},
"encoding":{"x":{"field":"item","type":"nominal","scale":{"type":"point","range":[98.3,138.3],"padding":0.5},"axis":null}},
"layer":[
{"mark":{"type":"square","size":240,"fill":"#ffffff","stroke":"#000000","strokeWidth":2.5,"opacity":1,"filled":true,"yOffset":27.3}},
{"mark":{"type":"text","dy":45.3,"fontSize":14,"font":"Liberation Sans","color":"#000000","baseline":"middle"},"encoding":{"text":{"field":"item"}}}
]}
]
}
]
}
